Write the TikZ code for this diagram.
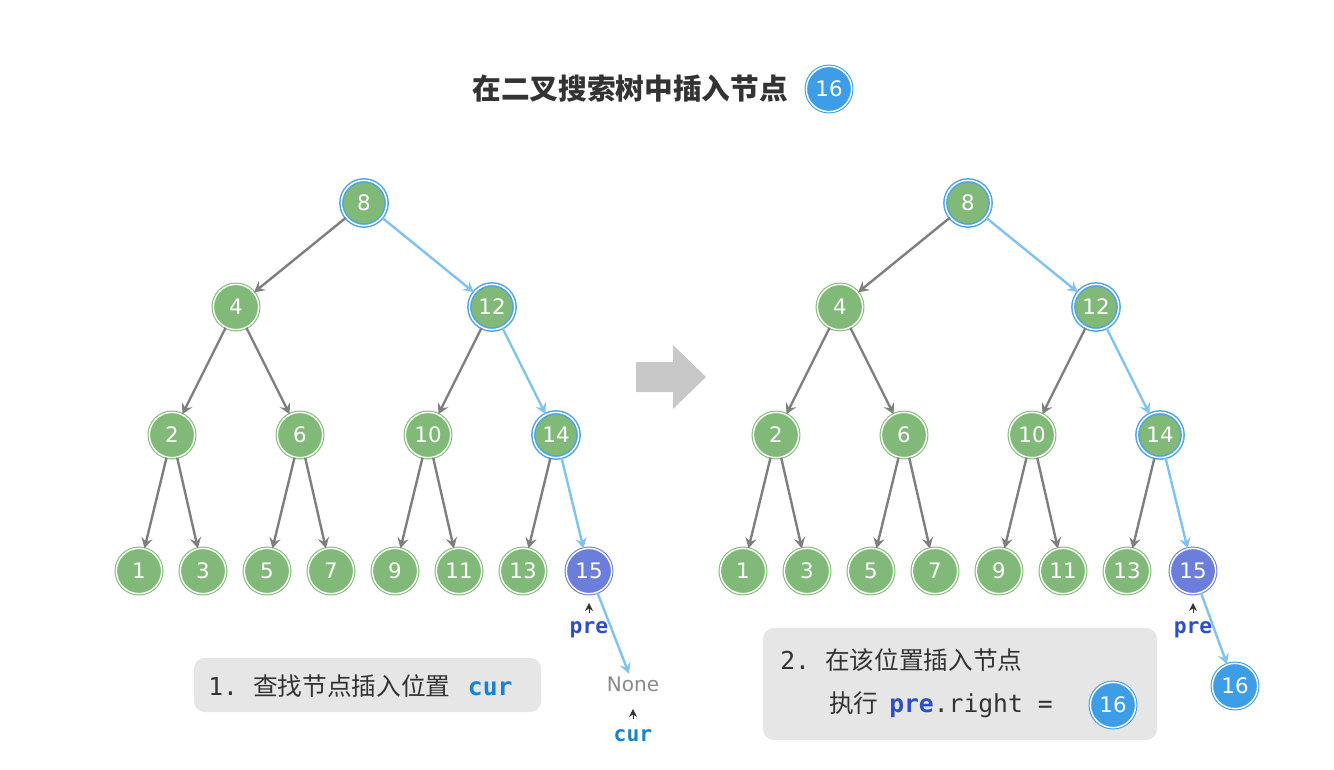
\documentclass[tikz,border=0pt]{standalone}
\usepackage{fontspec}
\setmainfont{DejaVu Sans}
\setmonofont{DejaVu Sans Mono}
\newfontfamily\cjk{Noto Sans CJK SC}
\usetikzlibrary{arrows.meta}
\definecolor{ngreen}{HTML}{80B978}
\definecolor{hlblue}{HTML}{4BA3E8}
\definecolor{npurple}{HTML}{6B7EDC}
\definecolor{nblue}{HTML}{3D9DE6}
\definecolor{egray}{HTML}{7F7F7F}
\definecolor{eblue}{HTML}{80C2F0}
\definecolor{boxfill}{HTML}{E6E6E6}
\definecolor{txt}{HTML}{333333}
\definecolor{preblue}{HTML}{2D4FC4}
\definecolor{curblue}{HTML}{1B82CE}
\definecolor{nonegray}{HTML}{8A8A8A}
\definecolor{arrgray}{HTML}{C8C8C8}
\newcommand\drawtree[2]{%
  \node[tn,hl] (#1n8) at (#2+364,203) {8};
  \node[tn] (#1n4) at (#2+236,307) {4};
  \node[tn,hl] (#1n12) at (#2+492,307) {12};
  \node[tn] (#1n2) at (#2+172,435) {2};
  \node[tn] (#1n6) at (#2+300,435) {6};
  \node[tn] (#1n10) at (#2+428,435) {10};
  \node[tn,hl] (#1n14) at (#2+556,435) {14};
  \node[tn] (#1n1) at (#2+139,571) {1};
  \node[tn] (#1n3) at (#2+203,571) {3};
  \node[tn] (#1n5) at (#2+267,571) {5};
  \node[tn] (#1n7) at (#2+331,571) {7};
  \node[tn] (#1n9) at (#2+395,571) {9};
  \node[tn] (#1n11) at (#2+459,571) {11};
  \node[tn] (#1n13) at (#2+523,571) {13};
  \node[tn,purp] (#1n15) at (#2+589,571) {15};
  \draw[ge] (#1n8) -- (#1n4);
  \draw[be] (#1n8) -- (#1n12);
  \draw[ge] (#1n4) -- (#1n2);
  \draw[ge] (#1n4) -- (#1n6);
  \draw[ge] (#1n12) -- (#1n10);
  \draw[be] (#1n12) -- (#1n14);
  \draw[ge] (#1n2) -- (#1n1);
  \draw[ge] (#1n2) -- (#1n3);
  \draw[ge] (#1n6) -- (#1n5);
  \draw[ge] (#1n6) -- (#1n7);
  \draw[ge] (#1n10) -- (#1n9);
  \draw[ge] (#1n10) -- (#1n11);
  \draw[ge] (#1n14) -- (#1n13);
  \draw[be] (#1n14) -- (#1n15);
  \node[lbl, text=preblue] (#1pre) at (#2+589,630) {pre};
  \coordinate (#1ca) at (#2+589,613);
  \coordinate (#1cb) at (#2+589,603);
  \draw[caret] (#1ca) -- (#1cb);
}
\begin{document}
\begin{tikzpicture}[x=0.75pt,y=-0.75pt,
  tn/.style={circle, minimum size=34pt, inner sep=0pt, fill=ngreen, draw=ngreen,
    double=white, double distance=1.1pt, line width=0.8pt, text=white,
    font=\fontsize{16}{18}\selectfont},
  hl/.style={draw=hlblue, line width=1.1pt},
  purp/.style={fill=npurple, draw=npurple},
  newn/.style={fill=nblue, draw=nblue},
  ge/.style={draw=egray, line width=1.8pt, -{Stealth[length=8pt,width=8.5pt,inset=3pt]}},
  be/.style={ge, draw=eblue},
  lbl/.style={inner sep=0pt, font=\ttfamily\bfseries\fontsize{16}{18}\selectfont},
  caret/.style={draw=txt, line width=0.6pt, -{Stealth[length=6pt,width=6pt,inset=2pt]}},
  boxtxt/.style={inner sep=0pt, anchor=west, text=txt, font=\fontsize{18.5}{22}\selectfont},
  infobox/.style={fill=boxfill, rounded corners=8pt, draw=none}]
\useasboundingbox (0,0) rectangle (1334,770);
\fill[white] (0,0) rectangle (1334,770);

% title
\node[inner sep=0pt, text=txt, font=\cjk\bfseries\fontsize{21.5}{25}\selectfont] (title) at (630,89) {在二叉搜索树中插入节点};
\node[tn,newn] (t16) at (829,89) {16};

% boxes
\path[infobox] (194,658) rectangle (541,712);
\path[infobox] (763,628) rectangle (1157,740);

% trees
\drawtree{L}{0}
\drawtree{R}{604}

% left: None
\node[inner sep=2pt, text=nonegray, font=\fontsize{15}{17}\selectfont] (none) at (633,684) {None};
\draw[be] (Ln15) -- (none);
\node[lbl, text=curblue] (curl) at (633,736) {cur};
\coordinate (nca) at (633,719);
\coordinate (ncb) at (633,709);
\draw[caret] (nca) -- (ncb);

% right: new node 16
\node[tn,newn] (R16) at (1235,686) {16};
\draw[be] (Rn15) -- (R16);

% big arrow
\fill[arrgray] (636,362) -- (673,362) -- (673,345) -- (706,377) -- (673,409) -- (673,392) -- (636,392) -- cycle;

% box texts
\node[boxtxt] (b1) at (208,686) {\makebox[33.75pt][l]{\ttfamily 1.}{\cjk 查找节点插入位置}\hspace{13pt}{\ttfamily\bfseries\color{curblue}cur}};
\node[boxtxt] (b2a) at (780,660) {\makebox[33.75pt][l]{\ttfamily 2.}{\cjk 在该位置插入节点}};
\node[boxtxt] (b2b) at (829,705) {{\cjk 执行}\hspace{8pt}{\ttfamily{\bfseries\color{preblue}pre}.right =}};
\node[tn,newn] (b16) at (1113,705) {16};
\end{tikzpicture}
\end{document}
